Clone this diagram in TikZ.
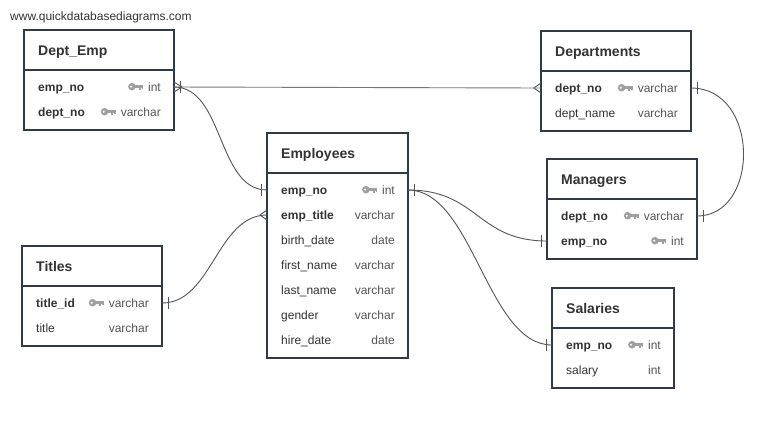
\documentclass[tikz,border=0pt]{standalone}
\usepackage{fontspec}
\setmainfont{Liberation Sans}

\definecolor{frame}{HTML}{2F3B47}
\definecolor{ink}{HTML}{333333}
\definecolor{typeink}{HTML}{555555}
\definecolor{keygray}{HTML}{A0A0A0}
\definecolor{wire}{HTML}{555555}

\tikzset{
  tablebox/.style={draw=frame, line width=2pt, fill=white, anchor=north west, inner sep=0pt, outer sep=0pt},
  rowslot/.style={inner sep=0pt, outer sep=0pt, minimum height=20pt, anchor=west},
  ttl/.style={font=\fontsize{14}{16}\selectfont\bfseries, text=ink, anchor=base west, inner sep=0pt},
  fkey/.style={font=\fontsize{12}{14}\selectfont\bfseries, text=ink, anchor=base west, inner sep=0pt},
  fplain/.style={font=\fontsize{12}{14}\selectfont, text=ink, anchor=base west, inner sep=0pt},
  ftype/.style={font=\fontsize{12}{14}\selectfont, text=typeink, anchor=base east, inner sep=0pt},
  rel/.style={draw=wire, line width=0.9pt},
  keyicon/.pic={
    \fill[keygray] (-11.5,0) circle (3.8);
    \fill[white] (-12.3,0) circle (1.1);
    \fill[keygray] (-9,-1.6) rectangle (0,1.4);
    \fill[keygray] (-4.6,0) rectangle (-2.6,3.4);
    \fill[keygray] (-1.9,0) rectangle (0,2.6);
  }
}

% table frame with header band: name, left x, top y, width, height, title
\newcommand\ertable[6]{%
  \node[tablebox, minimum width=#4pt, minimum height=#5pt] (#1) at (#2,#3) {};
  \draw[draw=frame, line width=2pt] ([yshift=-40pt]#1.north west) -- ([yshift=-40pt]#1.north east);
  \node[ttl] (#1-title) at ([xshift=14pt, yshift=-25pt]#1.north west) {#6};
}
% one column row: name, left x, centre y, width, style, column, type
\newcommand\erfield[7]{%
  \node[rowslot, minimum width=#4pt] (#1) at (#2,#3) {};
  \node[#5] (#1-n) at ([xshift=14pt, yshift=-4pt]#1.west) {#6};
  \node[ftype] (#1-t) at ([xshift=-13pt, yshift=-4pt]#1.east) {#7};
}
\newcommand\erkey[1]{\pic at ([xshift=-4.5pt]#1-t.west) {keyicon};}
% relationship end marks
\newcommand\crowL[1]{\draw[rel] ([yshift=5pt]#1.west) -- ([xshift=-7pt]#1.west) -- ([yshift=-5pt]#1.west);}
\newcommand\crowR[1]{\draw[rel] ([yshift=5pt]#1.east) -- ([xshift=8pt]#1.east) -- ([yshift=-5pt]#1.east);}
\newcommand\barL[1]{\draw[rel] ([xshift=-6pt, yshift=6pt]#1.west) -- ([xshift=-6pt, yshift=-6pt]#1.west);}
\newcommand\barR[1]{\draw[rel] ([xshift=6pt, yshift=6pt]#1.east) -- ([xshift=6pt, yshift=-6pt]#1.east);}

\begin{document}
\begin{tikzpicture}[x=1pt, y=-1pt]
  \useasboundingbox (0,0) rectangle (779,424);
  \fill[white] (0,0) rectangle (779,424);

  \node[font=\fontsize{12}{14}\selectfont, text=ink, anchor=base west, inner sep=0pt] (site) at (10,20) {www.quickdatabasediagrams.com};

  % Dept_Emp
  \ertable{deptemp}{24}{30}{150}{100}{Dept\_Emp}
  \erfield{deemp}{24}{87}{150}{fkey}{emp\_no}{int}\erkey{deemp}
  \erfield{dedept}{24}{112}{150}{fkey}{dept\_no}{varchar}\erkey{dedept}

  % Departments
  \ertable{departments}{541}{31}{150}{100}{Departments}
  \erfield{dpno}{541}{88}{150}{fkey}{dept\_no}{varchar}\erkey{dpno}
  \erfield{dpname}{541}{113}{150}{fplain}{dept\_name}{varchar}

  % Employees
  \ertable{employees}{267}{133}{141}{225}{Employees}
  \erfield{emno}{267}{190}{141}{fkey}{emp\_no}{int}\erkey{emno}
  \erfield{emtitle}{267}{215}{141}{fkey}{emp\_title}{varchar}
  \erfield{embirth}{267}{240}{141}{fplain}{birth\_date}{date}
  \erfield{emfirst}{267}{265}{141}{fplain}{first\_name}{varchar}
  \erfield{emlast}{267}{290}{141}{fplain}{last\_name}{varchar}
  \erfield{emgender}{267}{315}{141}{fplain}{gender}{varchar}
  \erfield{emhire}{267}{340}{141}{fplain}{hire\_date}{date}

  % Managers
  \ertable{managers}{547}{159}{150}{100}{Managers}
  \erfield{mgdept}{547}{216}{150}{fkey}{dept\_no}{varchar}\erkey{mgdept}
  \erfield{mgemp}{547}{241}{150}{fkey}{emp\_no}{int}\erkey{mgemp}

  % Titles
  \ertable{titles}{22}{246}{140}{100}{Titles}
  \erfield{tiid}{22}{303}{140}{fkey}{title\_id}{varchar}\erkey{tiid}
  \erfield{titl}{22}{328}{140}{fplain}{title}{varchar}

  % Salaries
  \ertable{salaries}{552}{288}{122}{100}{Salaries}
  \erfield{saemp}{552}{345}{122}{fkey}{emp\_no}{int}\erkey{saemp}
  \erfield{sasal}{552}{370}{122}{fplain}{salary}{int}

  % relationships
  \draw[rel, draw=wire!80] (deemp.east) -- (dpno.west);
  \draw[rel] (deemp.east) .. controls +(50,0) and +(-50,0) .. (emno.west);
  \draw[rel] (dpno.east) .. controls +(69,0) and +(63,0) .. (mgdept.east);
  \draw[rel] (emno.east) .. controls +(70,0) and +(-70,0) .. (mgemp.west);
  \draw[rel] (emno.east) .. controls +(65,0) and +(-65,0) .. (saemp.west);
  \draw[rel] (tiid.east) .. controls +(50,0) and +(-50,0) .. (emtitle.west);

  \crowR{deemp}\barR{deemp}
  \crowL{dpno}
  \barL{emno}
  \crowL{emtitle}
  \barR{emno}
  \barR{dpno}
  \barR{mgdept}
  \barL{mgemp}
  \barL{saemp}
  \barR{tiid}
\end{tikzpicture}
\end{document}
